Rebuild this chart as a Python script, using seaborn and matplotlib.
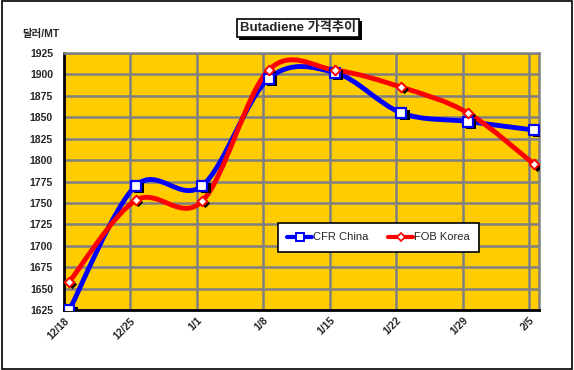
import numpy as np
import matplotlib
matplotlib.use("Agg")
import matplotlib.pyplot as plt
import matplotlib.transforms as mtransforms
import matplotlib.patheffects as pe
from matplotlib.path import Path
from matplotlib.patches import PathPatch, Rectangle
from matplotlib.lines import Line2D
import seaborn as sns
import pandas as pd

# data
dates = ["12/18", "12/25", "1/1", "1/8", "1/15", "1/22", "1/29", "2/5"]
cfr_china = [1625, 1770, 1770, 1895, 1902, 1855, 1845, 1835]
fob_korea = [1658, 1753, 1752, 1905, 1905, 1885, 1855, 1795]
y_ticks = [1625, 1650, 1675, 1700, 1725, 1750, 1775, 1800, 1825, 1850, 1875, 1900, 1925]

sns.set_style("white")
plt.rcParams["font.family"] = ["Liberation Sans", "Noto Sans CJK KR", "DejaVu Sans"]

MARK_SHIFT = 0.08  # markers sit a bit right of the category gridlines


def smooth_path(xs, ys):
    """Excel-style smoothed line as cubic Bezier segments (Catmull-Rom)."""
    pts = np.column_stack([xs, ys]).astype(float)
    n = len(pts)
    verts = [pts[0]]
    codes = [Path.MOVETO]
    for i in range(n - 1):
        p0 = pts[i - 1] if i > 0 else pts[i]
        p1, p2 = pts[i], pts[i + 1]
        p3 = pts[i + 2] if i + 2 < n else pts[i + 1]
        c1 = p1 + (p2 - p0) / 6.0
        c2 = p2 - (p3 - p1) / 6.0
        verts += [c1, c2, p2]
        codes += [Path.CURVE4] * 3
    return Path(verts, codes)


df = pd.DataFrame({
    "x": np.arange(len(dates)) + MARK_SHIFT,
    "CFR China": cfr_china,
    "FOB Korea": fob_korea,
})

fig = plt.figure(figsize=(5.74, 3.70), dpi=100)
fig.patch.set_facecolor("white")
fig.patches.append(Rectangle((0.003, 0.004), 0.994, 0.992, transform=fig.transFigure,
                             fill=False, edgecolor="black", linewidth=1.2))

ax = fig.add_axes([64 / 574, 1 - 310 / 370, 475 / 574, 257 / 370])
ax.set_facecolor("#FFCC00")

# grid
for k in range(len(dates)):
    ax.axvline(k, color="#808080", linewidth=1.8, zorder=1)
for v in y_ticks:
    ax.axhline(v, color="#808080", linewidth=1.8, zorder=1)

# smoothed lines
for col, color in [("CFR China", "#0000FF"), ("FOB Korea", "#FF0000")]:
    ax.add_patch(PathPatch(smooth_path(df["x"], df[col]), facecolor="none",
                           edgecolor=color, linewidth=3.5, zorder=3,
                           capstyle="round", joinstyle="round"))

# marker shadows + markers
sns.scatterplot(x=df["x"] + 0.05, y=df["CFR China"] - 2.5, marker="s", s=60,
                color="black", linewidth=0, ax=ax, zorder=4)
sns.scatterplot(x=df["x"] + 0.04, y=df["FOB Korea"] - 2.5, marker="D", s=22,
                color="black", linewidth=0, ax=ax, zorder=4)
sns.scatterplot(data=df, x="x", y="CFR China", marker="s", s=60, color="white",
                edgecolor="#0000FF", linewidth=1.6, ax=ax, zorder=5)
sns.scatterplot(data=df, x="x", y="FOB Korea", marker="D", s=24, color="white",
                edgecolor="#FF0000", linewidth=1.4, ax=ax, zorder=6)

ax.set_xlim(0, 7.15)
ax.set_ylim(1625, 1925)
ax.set_xlabel("")
ax.set_ylabel("")

ax.set_yticks(y_ticks)
ax.set_yticklabels([str(v) for v in y_ticks], fontsize=7.5, fontweight="bold")
ax.set_xticks(range(len(dates)))
ax.set_xticklabels(dates, fontsize=7.5, fontweight="bold", rotation=45,
                   ha="right", va="top", rotation_mode="anchor")
shift = mtransforms.ScaledTranslation(7 / 100, -6 / 100, fig.dpi_scale_trans)
for lbl in ax.get_xticklabels():
    lbl.set_transform(lbl.get_transform() + shift)

ax.tick_params(axis="both", direction="in", length=3, width=2, color="black", pad=4)
ax.tick_params(axis="y", pad=8)

for side in ["left", "bottom"]:
    ax.spines[side].set_color("black")
    ax.spines[side].set_linewidth(2)
for side in ["right", "top"]:
    ax.spines[side].set_color("#808080")
    ax.spines[side].set_linewidth(1.8)

# legend
handles = [
    Line2D([], [], color="#0000FF", linewidth=3, marker="s", markersize=6,
           markerfacecolor="white", markeredgecolor="#0000FF", markeredgewidth=1.4),
    Line2D([], [], color="#FF0000", linewidth=3, marker="D", markersize=4.5,
           markerfacecolor="white", markeredgecolor="#FF0000", markeredgewidth=1.2),
]
leg = ax.legend(handles, ["CFR China", "FOB Korea"], ncol=2, loc="upper left",
                bbox_to_anchor=(214 / 475, 1 - 170 / 257), frameon=True,
                fancybox=False, fontsize=8, handlelength=2.2, handletextpad=0.1,
                columnspacing=1.8, borderpad=0.85, borderaxespad=0, framealpha=1)
leg.get_frame().set_edgecolor("black")
leg.get_frame().set_linewidth(1.2)
leg.set_zorder(10)

# title with shadowed box
title = fig.text(298 / 574, 1 - 28 / 370, "Butadiene 가격추이", fontsize=9.5,
                 fontweight="bold", ha="center", va="center",
                 bbox=dict(boxstyle="square,pad=0.25", facecolor="white",
                           edgecolor="black", linewidth=1.2))
title.get_bbox_patch().set_path_effects([
    pe.SimplePatchShadow(offset=(2, -2), shadow_rgbFace="black", alpha=1),
    pe.Normal(),
])
fig.text(22 / 574, 1 - 34 / 370, "달러/MT", fontsize=7.5, fontweight="bold",
         ha="left", va="center")

fig.savefig("out.png", dpi=100)
